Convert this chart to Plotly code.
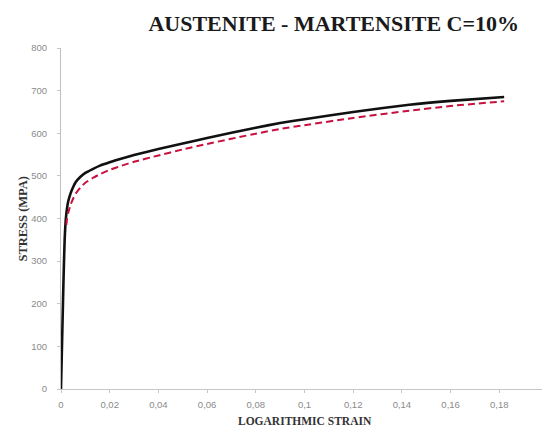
import plotly.graph_objects as go

title_text = "AUSTENITE - MARTENSITE C=10%"
x_title = "LOGARITHMIC STRAIN"
y_title = "STRESS (MPA)"

strain_black = [0, 0.001, 0.0015, 0.002, 0.0025, 0.003, 0.004, 0.005, 0.006, 0.008,
                0.01, 0.013, 0.016, 0.02, 0.025, 0.03, 0.04, 0.05, 0.06, 0.08,
                0.09, 0.1, 0.12, 0.143, 0.16, 0.182]
stress_black = [0, 250, 350, 400, 425, 441, 460, 474, 485, 498,
                507, 516, 524, 532, 541, 549, 563, 576, 589, 613,
                624, 633, 650, 667, 676, 685]

strain_red = [0.0022, 0.0025, 0.003, 0.004, 0.005, 0.006, 0.008, 0.01, 0.013, 0.016,
              0.02, 0.025, 0.03, 0.04, 0.05, 0.06, 0.08, 0.09, 0.1, 0.12,
              0.143, 0.16, 0.182]
stress_red = [385, 400, 414, 433, 447, 458, 473, 484, 495, 504,
              514, 524, 533, 548, 562, 575, 599, 610, 619, 636,
              653, 664, 675]

x_tickvals = [0, 0.02, 0.04, 0.06, 0.08, 0.1, 0.12, 0.14, 0.16, 0.18, 0.2]
x_ticktext = ["0", "0,02", "0,04", "0,06", "0,08", "0,1", "0,12", "0,14", "0,16", "0,18", "0,2"]
y_tickvals = [0, 100, 200, 300, 400, 500, 600, 700, 800]

fig = go.Figure()
fig.add_trace(go.Scatter(x=strain_black, y=stress_black, mode="lines",
                         line=dict(color="#111111", width=2.6, shape="spline", smoothing=0.5),
                         showlegend=False))
fig.add_trace(go.Scatter(x=strain_red, y=stress_red, mode="lines",
                         line=dict(color="#C8103E", width=2, dash="7px,4px", shape="spline", smoothing=0.5),
                         showlegend=False))

fig.update_layout(
    width=542, height=423,
    margin=dict(l=53, r=2, t=40, b=42, autoexpand=False),
    paper_bgcolor="white", plot_bgcolor="white",
    showlegend=False,
    title=dict(text="<b>" + title_text + "</b>", x=0.56, xref="paper", xanchor="center",
               y=1 - 15.5 / 423, yref="container", yanchor="middle",
               font=dict(family="Liberation Serif", size=22, color="#1a1a1a")),
    annotations=[
        dict(text="<b>" + x_title + "</b>", xref="paper", yref="paper", x=0.5, y=-0.094,
             xanchor="center", yanchor="middle", showarrow=False,
             font=dict(family="Liberation Serif", size=11.5, color="#333333")),
        dict(text="<b>" + y_title + "</b>", xref="paper", yref="paper", x=-0.080, y=0.5,
             xanchor="center", yanchor="middle", textangle=-90, showarrow=False,
             font=dict(family="Liberation Serif", size=12.5, color="#333333")),
    ],
)
fig.update_xaxes(range=[0, 0.2], tickvals=x_tickvals, ticktext=x_ticktext, automargin=False,
                 showgrid=False, zeroline=False, showline=True, linecolor="#c8c8c8", linewidth=1,
                 ticks="outside", ticklen=3, tickcolor="#c8c8c8", ticklabelstandoff=4,
                 tickfont=dict(family="Liberation Sans", size=9.5, color="#8a8a8a"))
fig.update_yaxes(range=[0, 800], tickvals=y_tickvals, automargin=False,
                 showgrid=False, zeroline=False, showline=True, linecolor="#c0c0c0", linewidth=1,
                 ticks="outside", ticklen=3, tickcolor="#c8c8c8", ticklabelstandoff=8,
                 tickfont=dict(family="Liberation Sans", size=9.5, color="#8a8a8a"))

fig.write_html("out.html")
